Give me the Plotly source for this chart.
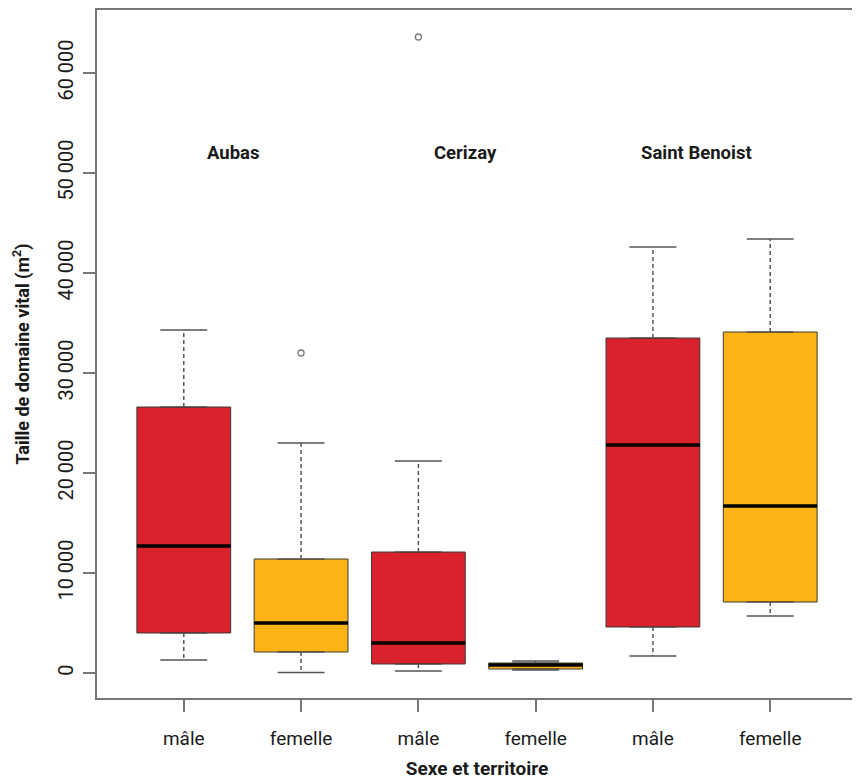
import plotly.graph_objects as go

# ---- data ----
sexes = ["mâle", "femelle", "mâle", "femelle", "mâle", "femelle"]
territories = ["Aubas", "Cerizay", "Saint Benoist"]
positions = [1, 2, 3, 4, 5, 6]
q1 = [4000, 2100, 900, 400, 4600, 7100]
median = [12700, 5000, 3000, 800, 22800, 16700]
q3 = [26600, 11400, 12100, 1000, 33500, 34100]
whisk_lo = [1300, 50, 200, 300, 1700, 5700]
whisk_hi = [34300, 23000, 21200, 1200, 42600, 43400]
outlier_pos = [2, 3]
outlier_val = [32000, 63600]
ytick_vals = [0, 10000, 20000, 30000, 40000, 50000, 60000]
ytick_text = ["0", "10 000", "20 000", "30 000", "40 000", "50 000", "60 000"]
label_pos = [1.42, 3.40, 5.37]
label_val = [52000, 52000, 52000]

RED = "#D9222C"
YEL = "#FCB415"
colors = [RED, YEL, RED, YEL, RED, YEL]
BOXW = 0.8
CAPW = 0.4
FONT = "Roboto, Liberation Sans, sans-serif"

fig = go.Figure()

# whiskers (dashed) and caps
for i, p in enumerate(positions):
    fig.add_trace(go.Scatter(x=[p, p, None, p, p], y=[q3[i], whisk_hi[i], None, q1[i], whisk_lo[i]],
                             mode="lines", line=dict(color="#555555", width=1.5, dash="4px,3px"),
                             hoverinfo="skip", showlegend=False))
    fig.add_trace(go.Scatter(x=[p - CAPW / 2, p + CAPW / 2, None, p - CAPW / 2, p + CAPW / 2],
                             y=[whisk_hi[i], whisk_hi[i], None, whisk_lo[i], whisk_lo[i]],
                             mode="lines", line=dict(color="#555555", width=1.5),
                             hoverinfo="skip", showlegend=False))

# boxes
for i, p in enumerate(positions):
    fig.add_trace(go.Box(x=[p], q1=[q1[i]], median=[median[i]], q3=[q3[i]],
                         lowerfence=[q1[i]], upperfence=[q3[i]], width=BOXW,
                         fillcolor=colors[i], line=dict(color="#3a3a3a", width=1),
                         boxpoints=False, showlegend=False, name=sexes[i]))

# thick medians
for i, p in enumerate(positions):
    fig.add_trace(go.Scatter(x=[p - BOXW / 2, p + BOXW / 2], y=[median[i], median[i]],
                             mode="lines", line=dict(color="black", width=3.5),
                             hoverinfo="skip", showlegend=False))

# outliers
fig.add_trace(go.Scatter(x=outlier_pos, y=outlier_val, mode="markers",
                         marker=dict(symbol="circle-open", size=6, color="#777777", line=dict(width=1.3)),
                         showlegend=False))

for t, xp, yv in zip(territories, label_pos, label_val):
    fig.add_annotation(x=xp, y=yv, text="<b>" + t + "</b>", showarrow=False,
                       font=dict(family=FONT, size=18.5, color="#1a1a1a"))

# the page body adds an 8px offset, so the figure is drawn 8px smaller with margins shifted
fig.update_layout(
    width=852, height=772,
    margin=dict(l=89, r=3, t=2, b=82),
    paper_bgcolor="white", plot_bgcolor="white",
    font=dict(family=FONT, size=18, color="#1a1a1a"),
    showlegend=False,
)
fig.update_xaxes(range=[0.26, 6.74], tickvals=positions, ticktext=sexes,
                 showgrid=False, zeroline=False, showline=True, mirror=True,
                 linecolor="#777777", linewidth=2, ticks="outside", ticklen=12,
                 tickcolor="#777777", tickwidth=2, ticklabelstandoff=10,
                 tickfont=dict(family=FONT, size=19), automargin=False,
                 title=dict(text="<b>Sexe et territoire</b>", standoff=24,
                            font=dict(family=FONT, size=19)))
fig.update_yaxes(range=[-2500, 66300], tickvals=ytick_vals, ticktext=ytick_text,
                 tickangle=-90, showgrid=False, zeroline=False, showline=True, mirror=True,
                 linecolor="#777777", linewidth=2, ticks="outside", ticklen=12,
                 tickcolor="#777777", tickwidth=2, ticklabelstandoff=2,
                 tickfont=dict(family=FONT, size=20), automargin=False,
                 title=dict(text="<b>Taille de domaine vital (m<sup>2</sup>)</b>", standoff=20,
                            font=dict(family=FONT, size=18)))

fig.write_html("out.html")
